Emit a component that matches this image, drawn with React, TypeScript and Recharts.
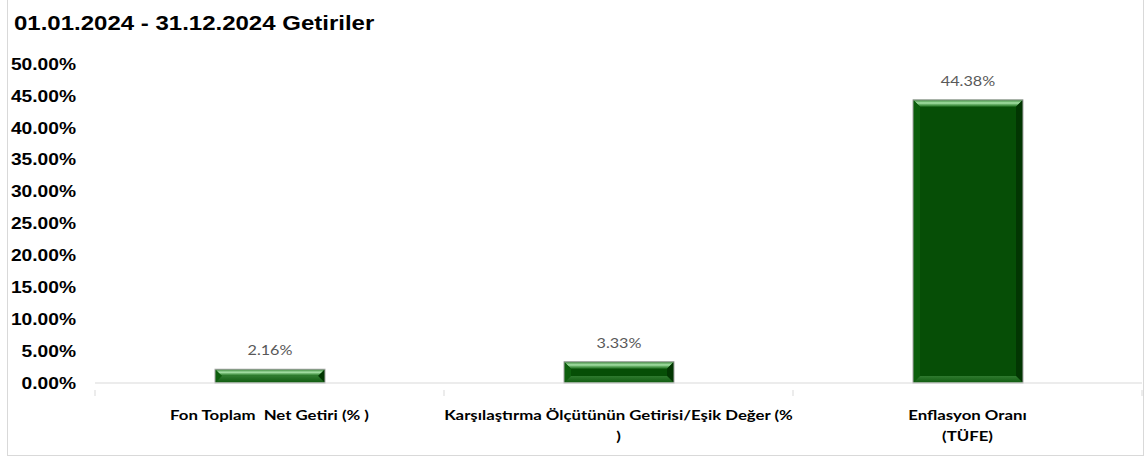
import { BarChart, Bar, XAxis, YAxis, LabelList } from 'recharts';

const categories = [
  'Fon Toplam  Net Getiri (% )',
  'Karşılaştırma Ölçütünün Getirisi/Eşik Değer (%\n)',
  'Enflasyon Oranı\n(TÜFE)',
];
const returns = [2.16, 3.33, 44.38];
const yTicks = [0, 5, 10, 15, 20, 25, 30, 35, 40, 45, 50];
const title = '01.01.2024 - 31.12.2024 Getiriler';

const chartData = categories.map((name, i) => ({ name, value: returns[i] }));

const W = 1135;
const H = 455;
const margin = { top: 64, right: 1, left: 0, bottom: 0 };
const yAxisWidth = 87;
const band = (W - margin.right - margin.left - yAxisWidth) / categories.length;
const stretch = 1.2; // the source image is a bit wider than tall

// Excel style bevelled bar
function BevelBar(props: any) {
  const { x, y, width: w, height: h } = props;
  if (!h || h <= 0) return null;
  const b = Math.min(7, h / 2);
  return (
    <g>
      <rect x={x} y={y} width={w} height={h} fill="#064e06" />
      <polygon points={`${x},${y} ${x + w},${y} ${x + w - b},${y + b} ${x + b},${y + b}`} fill="url(#bevTop)" />
      <polygon points={`${x},${y} ${x + b},${y + b} ${x + b},${y + h - b} ${x},${y + h}`} fill="#0d5f0d" />
      <polygon points={`${x + w},${y} ${x + w - b},${y + b} ${x + w - b},${y + h - b} ${x + w},${y + h}`} fill="#023602" />
      <polygon points={`${x},${y + h} ${x + b},${y + h - b} ${x + w - b},${y + h - b} ${x + w},${y + h}`} fill="url(#bevBottom)" />
      <rect x={x} y={y} width={w} height={h} fill="none" stroke="#a6a6a6" strokeWidth={1} />
    </g>
  );
}

function XTick(props: any) {
  const { x, y, payload, index } = props;
  const lines = String(payload.value).split('\n');
  const left = x - band / 2;
  return (
    <g>
      <line x1={left} y1={y - 1} x2={left} y2={y + 5} stroke="#d9d9d9" />
      {index === categories.length - 1 && (
        <line x1={left + band} y1={y - 1} x2={left + band} y2={y + 5} stroke="#d9d9d9" />
      )}
      <g transform={`translate(${x},${y + 29}) scale(${stretch},1)`}>
        <text
          x={0}
          y={0}
          textAnchor="middle"
          fontFamily="Lato"
          fontWeight="bold"
          fontSize={14}
          fill="#000"
          style={{ whiteSpace: 'pre' }}
        >
          {lines.map((l, i) => (
            <tspan key={i} x={0} dy={i === 0 ? 0 : 21}>
              {l}
            </tspan>
          ))}
        </text>
      </g>
    </g>
  );
}

function YTick(props: any) {
  const { x, y, payload } = props;
  return (
    <g transform={`translate(${x},${y}) scale(${stretch},1)`}>
      <text
        x={0}
        y={0}
        dy="0.36em"
        textAnchor="end"
        fontFamily="Liberation Sans"
        fontWeight="bold"
        fontSize={16}
        fill="#000"
      >
        {`${Number(payload.value).toFixed(2)}%`}
      </text>
    </g>
  );
}

function ValueLabel(props: any) {
  const { x, y, width, value } = props;
  return (
    <g transform={`translate(${x + width / 2},${y - 14}) scale(${stretch},1)`}>
      <text x={0} y={0} textAnchor="middle" fontFamily="Lato" fontSize={13.5} fill="#595959">
        {`${Number(value).toFixed(2)}%`}
      </text>
    </g>
  );
}

export default function App() {
  return (
    <div
      style={{
        position: 'absolute',
        left: 7,
        top: -1,
        width: W,
        height: H,
        border: '1px solid #d9d9d9',
        background: '#fff',
      }}
    >
      <div
        style={{
          position: 'absolute',
          left: 6,
          top: 11,
          lineHeight: '24px',
          fontFamily: 'Liberation Sans',
          fontWeight: 'bold',
          fontSize: 20,
          color: '#000',
          whiteSpace: 'nowrap',
          transform: `scaleX(${stretch})`,
          transformOrigin: 'left center',
        }}
      >
        {title}
      </div>
      <BarChart width={W} height={H} data={chartData} margin={margin}>
        <defs>
          <linearGradient id="bevTop" x1="0" y1="0" x2="0" y2="1">
            <stop offset="0%" stopColor="#2f7f2f" />
            <stop offset="45%" stopColor="#a8e2a8" />
            <stop offset="70%" stopColor="#5aa55a" />
            <stop offset="100%" stopColor="#1b6a1b" />
          </linearGradient>
          <linearGradient id="bevBottom" x1="0" y1="0" x2="0" y2="1">
            <stop offset="0%" stopColor="#2f7a2f" />
            <stop offset="100%" stopColor="#0e5a0e" />
          </linearGradient>
        </defs>
        <XAxis
          dataKey="name"
          height={H - 383}
          axisLine={{ stroke: '#d9d9d9' }}
          tickLine={false}
          interval={0}
          tick={<XTick />}
        />
        <YAxis
          width={yAxisWidth}
          domain={[0, 50]}
          ticks={yTicks}
          interval={0}
          axisLine={false}
          tickLine={false}
          tickSize={0}
          tickMargin={19}
          tick={<YTick />}
        />
        <Bar dataKey="value" barSize={110} shape={<BevelBar />} isAnimationActive={false}>
          <LabelList dataKey="value" content={<ValueLabel />} />
        </Bar>
      </BarChart>
    </div>
  );
}
